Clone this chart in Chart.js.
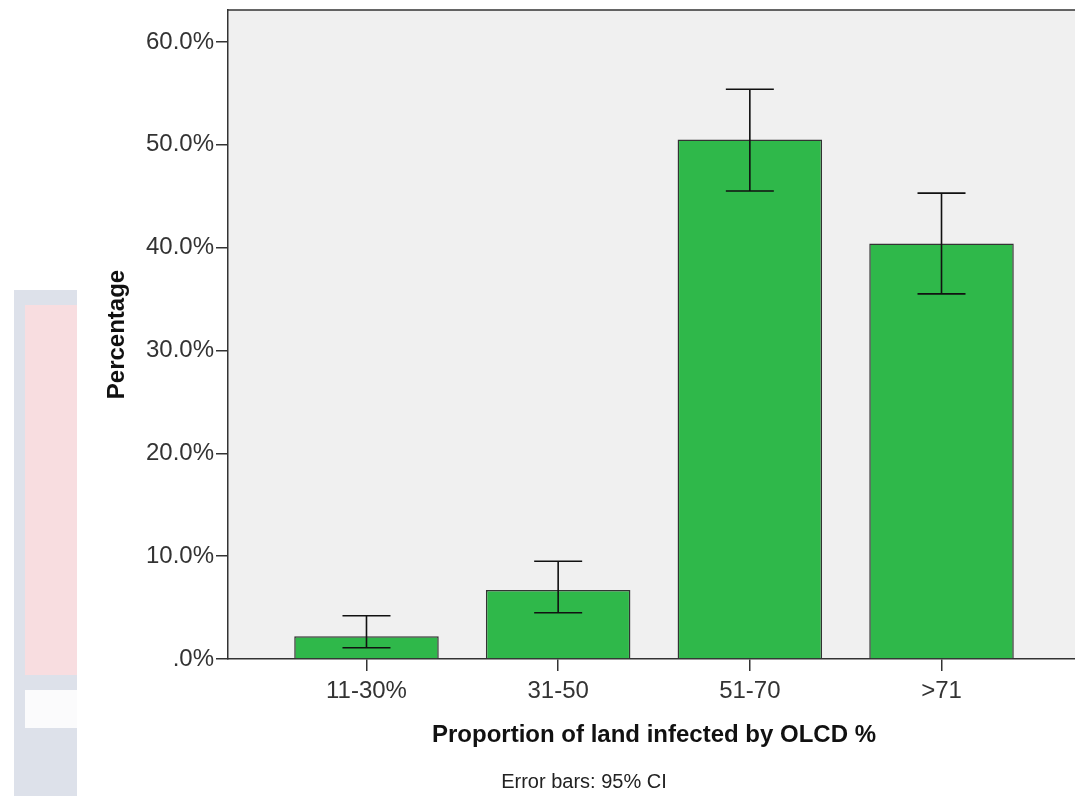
<!DOCTYPE html>
<html>
<head>
<meta charset="utf-8">
<script src="https://cdn.jsdelivr.net/npm/chart.js@4/dist/chart.umd.min.js"></script>
<style>
  html, body { margin: 0; padding: 0; background: #fff; overflow: hidden; }
  #wrap { position: relative; width: 1075px; height: 796px; overflow: hidden; }
  #chartBox { position: absolute; left: 0; top: 0; width: 1080px; height: 796px; }
  /* faint scanned page showing through on the left */
  .wm { position: absolute; }
  #wmBlue { left: 14px; top: 290px; width: 63px; height: 506px; background: #dde1ea; }
  #wmPink { left: 25px; top: 305px; width: 52px; height: 370px; background: #f8dde0; }
  #wmWhite { left: 25px; top: 690px; width: 52px; height: 38px; background: #fbfbfc; }
</style>
</head>
<body>
<div id="wrap">
  <div class="wm" id="wmBlue"></div>
  <div class="wm" id="wmPink"></div>
  <div class="wm" id="wmWhite"></div>
  <div id="chartBox"><canvas id="myChart"></canvas></div>
</div>
<script>
// datos
const categorias = ["11-30%", "31-50", "51-70", ">71"];
const porcentajes = [2.2, 6.7, 50.5, 40.4];
const ciBajo = [1.1, 4.5, 45.5, 35.5];
const ciAlto = [4.2, 9.5, 55.4, 45.3];
const ticksY = [0, 10, 20, 30, 40, 50, 60];

const fondoPlot = {
  id: "fondoPlot",
  beforeDraw(chart) {
    const { ctx, chartArea: a } = chart;
    ctx.save();
    ctx.fillStyle = "#f0f0f0";
    ctx.fillRect(a.left, a.top, a.right - a.left, a.bottom - a.top);
    // borde superior del area
    ctx.strokeStyle = "#333";
    ctx.lineWidth = 1.5;
    ctx.beginPath();
    ctx.moveTo(a.left, a.top);
    ctx.lineTo(a.right, a.top);
    ctx.stroke();
    ctx.restore();
  }
};

// barras de error 95% CI
const barrasError = {
  id: "barrasError",
  afterDatasetsDraw(chart) {
    const { ctx, scales } = chart;
    ctx.save();
    ctx.strokeStyle = "#111";
    ctx.lineWidth = 1.6;
    ciBajo.forEach((lo, i) => {
      const x = scales.x.getPixelForValue(i);
      const yLo = scales.y.getPixelForValue(lo);
      const yHi = scales.y.getPixelForValue(ciAlto[i]);
      const half = 24;
      ctx.beginPath();
      ctx.moveTo(x, yLo);
      ctx.lineTo(x, yHi);
      ctx.moveTo(x - half, yHi);
      ctx.lineTo(x + half, yHi);
      ctx.moveTo(x - half, yLo);
      ctx.lineTo(x + half, yLo);
      ctx.stroke();
    });
    ctx.restore();
  }
};

const notaPie = {
  id: "notaPie",
  afterDraw(chart) {
    const { ctx, chartArea: a } = chart;
    ctx.save();
    ctx.font = "20px 'Liberation Sans', Arial, sans-serif";
    ctx.fillStyle = "#222";
    ctx.textAlign = "center";
    ctx.textBaseline = "middle";
    ctx.fillText("Error bars: 95% CI", (a.left + a.right) / 2 - 70, 782);
    ctx.restore();
  }
};

const config = {
  type: "bar",
  data: {
    datasets: [
      {
        data: porcentajes.map((v, i) => ({ x: i, y: v })),
        backgroundColor: "#2fb84a",
        borderColor: "#333",
        borderWidth: 1.5,
        categoryPercentage: 1,
        barPercentage: 0.754
      }
    ]
  },
  options: {
    responsive: false,
    animation: false,
    layout: { padding: { top: 10, left: 0, right: 0, bottom: 0 } },
    plugins: { legend: { display: false }, tooltip: { enabled: false } },
    scales: {
      x: {
        type: "linear",
        offset: false,
        min: -0.7225,
        max: 3.7225,
        afterFit(scale) {
          scale.height = 137;
          scale.paddingLeft = 0;
          scale.paddingRight = 0;
        },
        afterBuildTicks(scale) { scale.ticks = categorias.map((c, i) => ({ value: i })); },
        ticks: {
          padding: 6,
          color: "#333",
          font: { family: "'Liberation Sans', Arial, sans-serif", size: 24 },
          callback: (v) => categorias[v] ?? ""
        },
        grid: { offset: false, drawOnChartArea: false, drawTicks: true, tickLength: 12, color: "#333", lineWidth: 1.5 },
        border: { display: true, color: "#333", width: 1.5 },
        title: {
          display: true,
          text: "Proportion of land infected by OLCD %",
          color: "#111",
          font: { family: "'Liberation Sans', Arial, sans-serif", size: 24, weight: "bold" },
          padding: { top: 0, bottom: 46 }
        }
      },
      y: {
        min: 0,
        max: 63.1,
        afterFit(scale) {
          scale.width = 228;
          scale.paddingTop = 0;
          scale.paddingBottom = 0;
        },
        afterBuildTicks(scale) { scale.ticks = ticksY.map((v) => ({ value: v })); },
        ticks: {
          padding: 2,
          color: "#333",
          font: { family: "'Liberation Sans', Arial, sans-serif", size: 24 },
          callback: (v) => (v === 0 ? ".0%" : v.toFixed(1) + "%")
        },
        grid: { drawOnChartArea: false, drawTicks: true, tickLength: 12, color: "#333", lineWidth: 1.5 },
        border: { display: true, color: "#333", width: 1.5 },
        title: {
          display: true,
          text: "Percentage",
          color: "#111",
          font: { family: "'Liberation Sans', Arial, sans-serif", size: 24, weight: "bold" },
          padding: { top: 103, bottom: 0 }
        }
      }
    }
  },
  plugins: [fondoPlot, barrasError, notaPie]
};

const canvas = document.getElementById("myChart");
canvas.width = 1080;
canvas.height = 796;
new Chart(canvas, config);
</script>
</body>
</html>
